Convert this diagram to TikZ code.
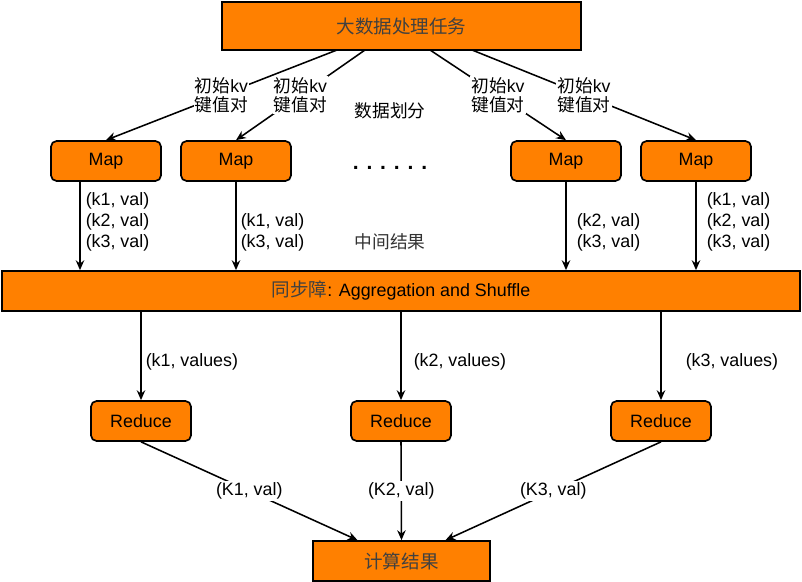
\documentclass[tikz,border=0pt]{standalone}
\usepackage{fontspec}
\setmainfont{Liberation Sans}
\newfontfamily\cjk{Noto Sans CJK SC}
\usetikzlibrary{arrows.meta}

\definecolor{boxorange}{RGB}{255,128,0}

\tikzset{
	box/.style={draw=black, line width=1.2pt, fill=boxorange, inner sep=0pt},
	mapbox/.style={box, rounded corners=4pt, minimum width=2.75cm, minimum height=1cm},
	redbox/.style={box, rounded corners=4pt, minimum width=2.5cm, minimum height=1cm},
	lbl/.style={fill=white, inner sep=1pt, align=center},
	kvtext/.style={anchor=west, align=left, inner sep=0pt},
	zh/.style={font=\cjk\fontsize{12.6}{13.5}\selectfont}
}
\newcommand{\boxzh}[1]{{\cjk\fontsize{13.2}{16}\selectfont\color{black!75}#1}}

\begin{document}
\begin{tikzpicture}[x=0.025cm, y=-0.025cm, line width=1.1pt, >={Stealth[length=7pt, width=6pt]},
	font=\fontsize{12.7}{15}\selectfont]
	
	\useasboundingbox (0,0) rectangle (802,582);
	
	% boxes
	\node[box, minimum width=8.975cm, minimum height=1.2cm] (task) at (401.5,26) {\boxzh{大数据处理任务}};
	
	\node[mapbox] (map1) at (106,161) {Map};
	\node[mapbox] (map2) at (236,161) {Map};
	\node[mapbox] (map3) at (566,161) {Map};
	\node[mapbox] (map4) at (696,161) {Map};
	
	\node[box, minimum width=19.95cm, minimum height=1cm] (barrier) at (401,291) {\boxzh{同步障}: Aggregation and Shuffle};
	
	\node[redbox] (red1) at (141,421) {Reduce};
	\node[redbox] (red2) at (401,421) {Reduce};
	\node[redbox] (red3) at (661,421) {Reduce};
	
	\node[box, minimum width=4.425cm, minimum height=1cm] (result) at (401.5,561) {\boxzh{计算结果}};
	
	% free texts
	\node[zh] (split) at (390,111) {数据划分};
	\node[inner sep=0pt] (dots) at (390,168) {\fontsize{15}{15}\selectfont\bfseries . . . . . .};
	\node[zh, text=black!80] (mid) at (390,242) {中间结果};
	
	% data split
	\coordinate (s1) at (337,50);
	\coordinate (s2) at (365,50);
	\coordinate (s3) at (430,50);
	\coordinate (s4) at (472,50);
	\foreach \i in {1,...,4}
	\draw[->] (s\i) -- (map\i.north) node[lbl, pos=0.5, font=\fontsize{12.6}{13.5}\selectfont] {{\cjk 初始}kv\\{\cjk 键值对}};
	
	% map output
	\draw[->] ([xshift=-0.65cm]map1.south) coordinate (m1) -- (m1 |- barrier.north);
	\draw[->] (map2.south) -- (map2.south |- barrier.north);
	\draw[->] (map3.south) -- (map3.south |- barrier.north);
	\draw[->] (map4.south) -- (map4.south |- barrier.north);
	
	\node[kvtext] (kv1) at (85,222) {(k1, val)\\(k2, val)\\(k3, val)};
	\node[kvtext] (kv2) at (240,232) {(k1, val)\\(k3, val)};
	\node[kvtext] (kv3) at (576,232) {(k2, val)\\(k3, val)};
	\node[kvtext] (kv4) at (706,222) {(k1, val)\\(k2, val)\\(k3, val)};
	
	% shuffle
	\draw[->] (red1.north |- barrier.south) -- (red1.north);
	\draw[->] (red2.north |- barrier.south) -- (red2.north);
	\draw[->] (red3.north |- barrier.south) -- (red3.north);
	
	\node[kvtext] (vals1) at (145,362) {(k1, values)};
	\node[kvtext] (vals2) at (413,362) {(k2, values)};
	\node[kvtext] (vals3) at (685,362) {(k3, values)};
	
	% reduce output
	\draw[->] (red1.south) -- ([xshift=-1.1cm]result.north) node[lbl, pos=0.5] {(K1, val)};
	\draw[->] (red2.south) -- (result.north) node[lbl, pos=0.5] {(K2, val)};
	\draw[->] (red3.south) -- ([xshift=1.1cm]result.north) node[lbl, pos=0.5] {(K3, val)};
\end{tikzpicture}
\end{document}
